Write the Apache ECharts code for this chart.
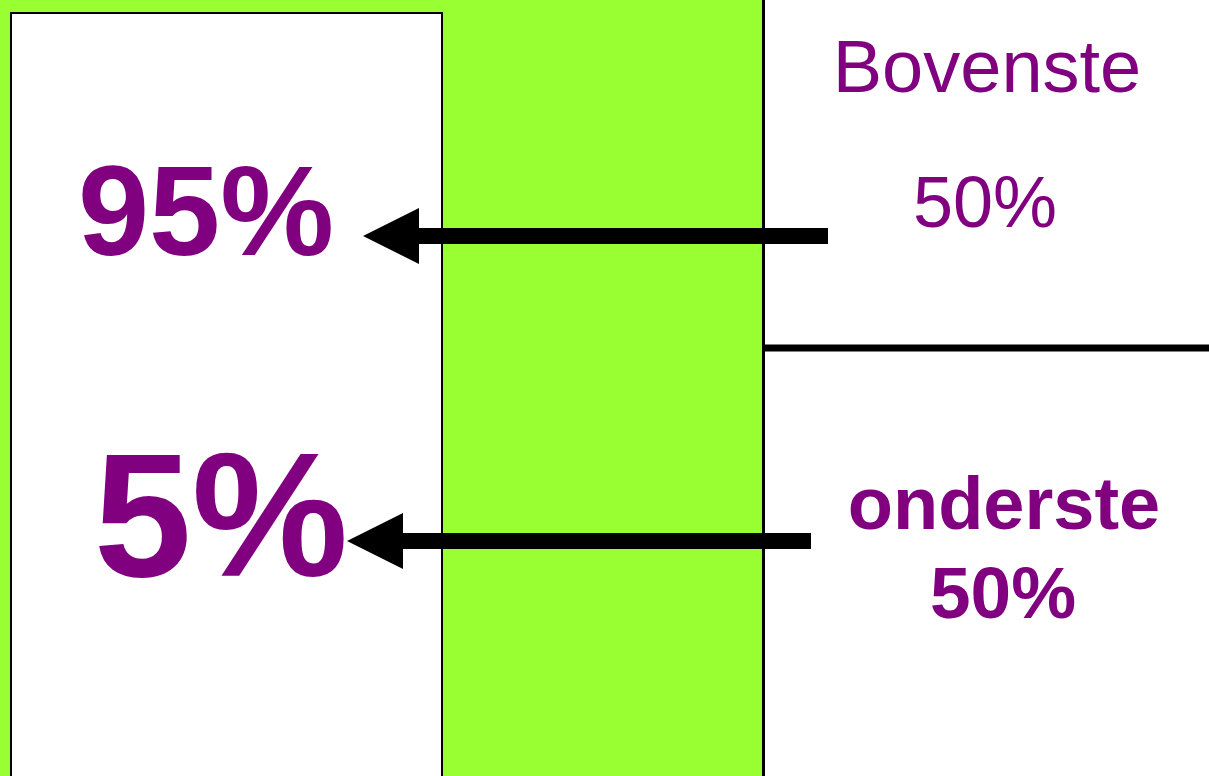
<!DOCTYPE html>
<html>
<head>
<meta charset="utf-8">
<script src="https://cdn.jsdelivr.net/npm/echarts@6/dist/echarts.min.js"></script>
<style>
  html, body { margin: 0; padding: 0; background: #fff; }
  #chart { width: 1209px; height: 776px; }
</style>
</head>
<body>
<div id="chart"></div>
<script>
// texts of the diagram
var bigLabels = ['95%', '5%'];
var sideTop = ['Bovenste', '50%'];
var sideBottom = ['onderste', '50%'];

// layout (in page units, the hidden axes run 0..1209 and 0..776)
var blocks = [
  // x0, y0, x1, y1, kind
  [0, 0, 764, 800, 0],      // green band
  [11, 13, 442, 800, 1],    // white box
  [763.5, 0, 763.5, 800, 2],    // divider
  [765, 348, 1209, 348, 3]  // half line
];
var arrows = [
  // tail x, tip x, y
  [828, 363, 236],
  [811, 347, 541]
];
var texts = [
  // x, y, label, size, bold
  [206, 220, bigLabels[0], 128, 1],
  [221, 527, bigLabels[1], 176, 1],
  [987, 72, sideTop[0], 74, 0],
  [985, 207, sideTop[1], 72, 0],
  [1004, 509, sideBottom[0], 74, 1],
  [1003, 598, sideBottom[1], 73, 1]
];

var purple = '#800080';
var green = '#99ff33';

var chart = echarts.init(document.getElementById('chart'));

function renderBlock(params, api) {
  var p0 = api.coord([api.value(0), api.value(1)]);
  var p1 = api.coord([api.value(2), api.value(3)]);
  var kind = api.value(4);
  if (kind === 0) {
    return { type: 'rect', shape: { x: p0[0], y: p0[1], width: p1[0] - p0[0], height: p1[1] - p0[1] },
      style: { fill: green } };
  }
  if (kind === 1) {
    return { type: 'rect', shape: { x: p0[0], y: p0[1], width: p1[0] - p0[0], height: p1[1] - p0[1] },
      style: { fill: '#fff', stroke: '#000', lineWidth: 2 } };
  }
  return { type: 'line', shape: { x1: p0[0], y1: p0[1], x2: p1[0], y2: p1[1] },
    style: { stroke: '#000', lineWidth: kind === 2 ? 3 : 7 } };
}

function renderArrow(params, api) {
  var tail = api.coord([api.value(0), api.value(2)]);
  var tip = api.coord([api.value(1), api.value(2)]);
  var headLen = 56, half = 28;
  return {
    type: 'group',
    children: [
      { type: 'line', shape: { x1: tail[0], y1: tail[1], x2: tip[0] + headLen - 2, y2: tip[1] },
        style: { stroke: '#000', lineWidth: 16 } },
      { type: 'polygon', shape: { points: [[tip[0], tip[1]], [tip[0] + headLen, tip[1] - half], [tip[0] + headLen, tip[1] + half]] },
        style: { fill: '#000' } }
    ]
  };
}

function renderText(params, api) {
  var p = api.coord([api.value(0), api.value(1)]);
  var t = texts[params.dataIndex];
  return {
    type: 'text',
    x: p[0], y: p[1],
    style: {
      text: t[2],
      fill: purple,
      font: (t[4] ? 'bold ' : '') + t[3] + 'px "Liberation Sans", Arial, sans-serif',
      align: 'center',
      verticalAlign: 'middle'
    }
  };
}

var option = {
  animation: false,
  grid: { left: 0, right: 0, top: 0, bottom: 0 },
  xAxis: { type: 'value', min: 0, max: 1209, show: false },
  yAxis: { type: 'value', min: 0, max: 776, inverse: true, show: false },
  series: [
    { type: 'custom', renderItem: renderBlock, data: blocks, clip: true, silent: true },
    { type: 'custom', renderItem: renderArrow, data: arrows, silent: true },
    { type: 'custom', renderItem: renderText, data: texts.map(function (t) { return [t[0], t[1]]; }), silent: true }
  ]
};

chart.setOption(option);
window.addEventListener('resize', function () { chart.resize(); });
</script>
</body>
</html>
